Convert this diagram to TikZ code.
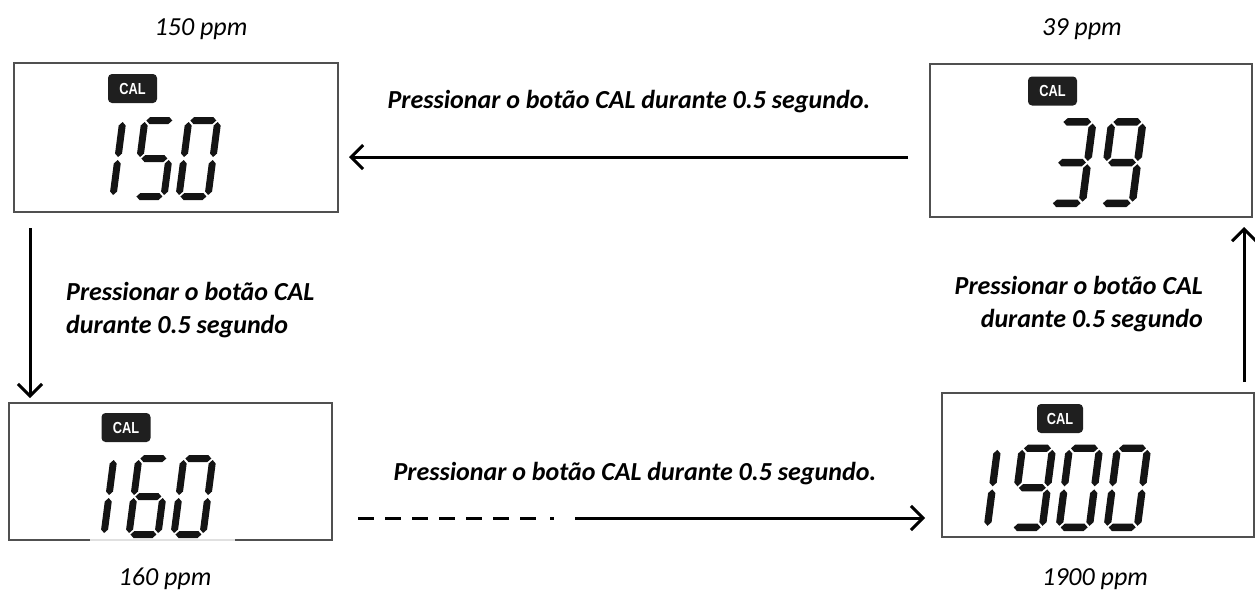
\documentclass[tikz,border=0pt]{standalone}
\usepackage{fontspec}
\setmainfont{Carlito}
\newfontfamily\calfont{Liberation Sans}
\usepackage{graphicx}
\usetikzlibrary{arrows.meta}
\definecolor{boxgray}{RGB}{80,80,80}
\definecolor{segcol}{RGB}{20,20,20}
% seven-segment pieces (local units, y up)
\def\lcdsega{\fill[lcdseg] (5,79.5)--(8.5,83)--(27.5,83)--(31,79.5)--(27.5,76)--(8.5,76)--cycle;}
\def\lcdsegg{\fill[lcdseg] (5,41.5)--(8.5,45)--(27.5,45)--(31,41.5)--(27.5,38)--(8.5,38)--cycle;}
\def\lcdsegd{\fill[lcdseg] (5,3.5)--(8.5,7)--(27.5,7)--(31,3.5)--(27.5,0)--(8.5,0)--cycle;}
\def\lcdsegf{\fill[lcdseg] (3.5,43)--(7,46.5)--(7,74.5)--(3.5,78)--(0,74.5)--(0,46.5)--cycle;}
\def\lcdsege{\fill[lcdseg] (3.5,5)--(7,8.5)--(7,36.5)--(3.5,40)--(0,36.5)--(0,8.5)--cycle;}
\def\lcdsegb{\fill[lcdseg] (32.5,43)--(36,46.5)--(36,74.5)--(32.5,78)--(29,74.5)--(29,46.5)--cycle;}
\def\lcdsegc{\fill[lcdseg] (32.5,5)--(36,8.5)--(36,36.5)--(32.5,40)--(29,36.5)--(29,8.5)--cycle;}
\newcommand\lcddigit[4]{%
  \begin{scope}[shift={(#1,#2)},yscale=-1,scale=#3,xslant=-0.13]
    \foreach \s in {#4}{\csname lcdseg\s\endcsname}
  \end{scope}}
\begin{document}
\begin{tikzpicture}[x=1pt,y=-1pt,
  lcdbox/.style={draw=boxgray,line width=1.8pt,inner sep=0pt,outer sep=0pt},
  boxline/.style={draw=boxgray,line width=1.8pt},
  lcdseg/.style={fill=segcol},
  calbadge/.style={fill=black!88,rounded corners=4pt,minimum width=49pt,minimum height=29pt,
     inner sep=0pt,text=white,font={\fontsize{16}{16}\calfont\bfseries}},
  lab/.style={font={\fontsize{26}{33}\selectfont\bfseries\itshape},inner sep=0pt},
  ppm/.style={font={\fontsize{26}{30}\selectfont\itshape},inner sep=0pt},
  arr/.style={line width=3pt,-{Straight Barb[length=12pt,width=24pt]}},
  plain/.style={line width=3pt}]
\useasboundingbox (0,0) rectangle (1255,590);

% boxes
\node[lcdbox,minimum width=324pt,minimum height=149pt,anchor=north west] (b1) at (14,63) {};
\node[lcdbox,minimum width=322pt,minimum height=153pt,anchor=north west] (b2) at (930,64) {};
\node[lcdbox,draw=none,minimum width=323pt,minimum height=137pt,anchor=north west] (b3) at (9,403) {};
\node[lcdbox,minimum width=312pt,minimum height=144pt,anchor=north west] (b4) at (942,393) {};
\coordinate (g1) at (90,540);
\coordinate (g2) at (235,540);
\draw[boxline] (g1) -- (b3.south west) -- (b3.north west) -- (b3.north east) -- (b3.south east) -- (g2);
\draw[boxline,draw=black!12] (g1) -- (g2);

% CAL badges
\node[calbadge] (c1) at (132.5,88.5) {\scalebox{0.8}[1]{CAL}};
\node[calbadge] (c2) at (1052.5,91) {\scalebox{0.8}[1]{CAL}};
\node[calbadge] (c3) at (126,427.5) {\scalebox{0.8}[1]{CAL}};
\node[calbadge,minimum width=46pt] (c4) at (1060,418.5) {\scalebox{0.8}[1]{CAL}};

% digits 150
\lcddigit{80}{200}{1}{b,c}
\lcddigit{131}{200}{1}{a,f,g,c,d}
\lcddigit{175}{200}{1}{a,b,c,d,e,f}
% digits 39
\lcddigit{1047}{207}{1.07}{a,b,g,c,d}
\lcddigit{1097}{207}{1.07}{a,b,c,d,f,g}
% digits 160
\lcddigit{71}{538}{1}{b,c}
\lcddigit{125}{538}{1}{a,f,g,e,c,d}
\lcddigit{170}{538}{1}{a,b,c,d,e,f}
% digits 1900
\lcddigit{953}{531}{1.04}{b,c}
\lcddigit{1008}{531}{1.04}{a,b,c,d,f,g}
\lcddigit{1055}{531}{1.04}{a,b,c,d,e,f}
\lcddigit{1103}{531}{1.04}{a,b,c,d,e,f}

% value labels
\node[ppm,anchor=base] (p150) at (201,35) {150 ppm};
\node[ppm,anchor=base] (p39) at (1082,35) {39 ppm};
\node[ppm,anchor=base] (p160) at (165,585) {160 ppm};
\node[ppm,anchor=base] (p1900) at (1095,585) {1900 ppm};

% action labels
\node[lab,anchor=base] (ltop) at (629,108) {Pressionar o botão CAL durante 0.5 segundo.};
\node[lab,anchor=base] (lbot) at (635,480) {Pressionar o botão CAL durante 0.5 segundo.};
\node[lab,align=left,anchor=north west] (lleft) at (66,282) {Pressionar o botão CAL\\durante 0.5 segundo};
\node[lab,align=right,anchor=north east] (lright) at (1203,276) {Pressionar o botão CAL\\durante 0.5 segundo};

% connectors
\coordinate (t0) at (908,157);
\coordinate (t1) at (349,157);
\draw[arr] (t0) -- (t1);
\coordinate (l0) at (30,228);
\coordinate (l1) at (30,398);
\draw[arr] (l0) -- (l1);
\coordinate (r0) at (1244,382);
\coordinate (r1) at (1244,227);
\draw[arr] (r0) -- (r1);
\coordinate (d0) at (358,518);
\coordinate (d1) at (557,518);
\coordinate (d2) at (575,518);
\coordinate (d3) at (925,518);
\draw[plain,dash pattern={on 16pt off 11pt on 16pt off 11pt on 16pt off 11pt on 16pt off 11pt on 16pt off 11pt on 16pt off 11pt on 16pt off 14pt on 4pt off 40pt}] (d0) -- (d1);
\draw[arr] (d2) -- (d3);
\end{tikzpicture}
\end{document}
